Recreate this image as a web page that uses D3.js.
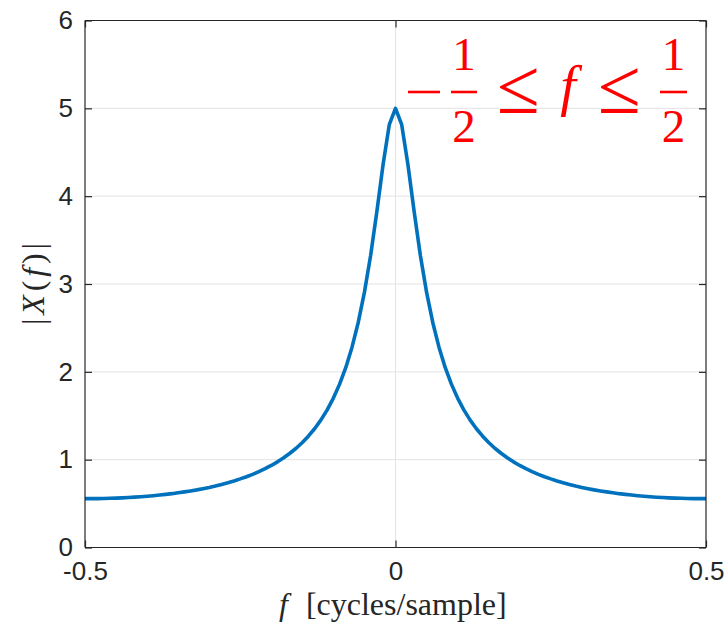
<!DOCTYPE html>
<html><head><meta charset="utf-8">
<script src="https://cdn.jsdelivr.net/npm/d3@7"></script>
<style>body{margin:0;background:#fff}svg{display:block}</style>
</head><body>
<svg id="chart" width="728" height="625"></svg>
<script>
const freq = [-0.50,-0.49,-0.48,-0.47,-0.46,-0.45,-0.44,-0.43,-0.42,-0.41,-0.40,-0.39,-0.38,-0.37,-0.36,-0.35,-0.34,-0.33,-0.32,-0.31,-0.30,-0.29,-0.28,-0.27,-0.26,-0.25,-0.24,-0.23,-0.22,-0.21,-0.20,-0.19,-0.18,-0.17,-0.16,-0.15,-0.14,-0.13,-0.12,-0.11,-0.10,-0.09,-0.08,-0.07,-0.06,-0.05,-0.04,-0.03,-0.02,-0.01,0.00,0.01,0.02,0.03,0.04,0.05,0.06,0.07,0.08,0.09,0.10,0.11,0.12,0.13,0.14,0.15,0.16,0.17,0.18,0.19,0.20,0.21,0.22,0.23,0.24,0.25,0.26,0.27,0.28,0.29,0.30,0.31,0.32,0.33,0.34,0.35,0.36,0.37,0.38,0.39,0.40,0.41,0.42,0.43,0.44,0.45,0.46,0.47,0.48,0.49,0.50];
const magnitude = [0.556,0.556,0.557,0.558,0.560,0.562,0.565,0.569,0.573,0.578,0.584,0.590,0.597,0.605,0.613,0.623,0.633,0.644,0.656,0.670,0.684,0.700,0.718,0.737,0.758,0.781,0.806,0.833,0.864,0.897,0.934,0.975,1.021,1.073,1.130,1.196,1.270,1.355,1.453,1.567,1.701,1.860,2.050,2.281,2.562,2.907,3.328,3.825,4.360,4.814,
5.000,
4.814,4.360,3.825,3.328,2.907,2.562,2.281,2.050,1.860,1.701,1.567,1.453,1.355,1.270,1.196,1.130,1.073,1.021,0.975,0.934,0.897,0.864,0.833,0.806,0.781,0.758,0.737,0.718,0.700,0.684,0.670,0.656,0.644,0.633,0.623,0.613,0.605,0.597,0.590,0.584,0.578,0.573,0.569,0.565,0.562,0.560,0.558,0.557,0.556,0.556];
const xTicks = [-0.5, 0, 0.5];
const xTickLabels = ["-0.5", "0", "0.5"];
const yTicks = [0, 1, 2, 3, 4, 5, 6];
const yTickLabels = ["0", "1", "2", "3", "4", "5", "6"];

const svg = d3.select("#chart");
const L = 85, R = 706, T = 20.5, B = 547.5;
const x = d3.scaleLinear().domain([-0.5, 0.5]).range([L, R]);
const y = d3.scaleLinear().domain([0, 6]).range([B, T]);
const axisColor = "#262626";
const tickFont = "'Liberation Sans', Arial, sans-serif";
const serif = "'Liberation Serif', 'Times New Roman', serif";

// grid
const g = svg.append("g");
g.selectAll("line.gy").data(yTicks.slice(1, -1)).join("line")
  .attr("x1", L).attr("x2", R).attr("y1", d => y(d)).attr("y2", d => y(d))
  .attr("stroke", "#e3e3e3").attr("stroke-width", 1);
g.selectAll("line.gx").data(xTicks.slice(1, -1)).join("line")
  .attr("y1", T).attr("y2", B).attr("x1", d => x(d)).attr("x2", d => x(d))
  .attr("stroke", "#e3e3e3").attr("stroke-width", 1);

// curve
const line = d3.line().x((d, i) => x(freq[i])).y(d => y(d));
svg.append("path").datum(magnitude).attr("d", line)
  .attr("fill", "none").attr("stroke", "#0072BD").attr("stroke-width", 3.6)
  .attr("stroke-linejoin", "round");

// axes (box with inward ticks)
const tl = 7;
const axB = d3.axisBottom(x).tickValues(xTicks).tickSize(-tl).tickFormat((d, i) => xTickLabels[i]).tickPadding(14);
const axT = d3.axisTop(x).tickValues(xTicks).tickSize(-tl).tickFormat("");
const axL = d3.axisLeft(y).tickValues(yTicks).tickSize(-tl).tickFormat((d, i) => yTickLabels[i]).tickPadding(12);
const axR = d3.axisRight(y).tickValues(yTicks).tickSize(-tl).tickFormat("");
function style(sel) {
  sel.select(".domain").attr("stroke", axisColor).attr("stroke-width", 1.2);
  sel.selectAll(".tick line").attr("stroke", axisColor).attr("stroke-width", 1.2);
  sel.selectAll(".tick text").attr("fill", axisColor).style("font-family", tickFont).style("font-size", "26px");
}
svg.append("g").attr("transform", `translate(0,${B})`).call(axB).call(style).call(s => s.select(".domain").attr("d", `M${L},0H${R}`));
svg.append("g").attr("transform", `translate(0,${T})`).call(axT).call(style).call(s => s.select(".domain").attr("d", `M${L},0H${R}`));
svg.append("g").attr("transform", `translate(${L},0)`).call(axL).call(style).call(s => s.select(".domain").attr("d", `M0,${B}V${T}`));
svg.append("g").attr("transform", `translate(${R},0)`).call(axR).call(style).call(s => s.select(".domain").attr("d", `M0,${B}V${T}`));

// axis labels
const xl = svg.append("text").attr("x", 279).attr("y", 615)
  .style("font-family", serif).style("font-size", "32px").attr("fill", axisColor);
xl.append("tspan").style("font-style", "italic").text("f");
xl.append("tspan").attr("dx", 18).text("[cycles/sample]");

const yl = svg.append("text").attr("transform", "translate(44,284) rotate(-90)")
  .attr("text-anchor", "middle")
  .style("font-family", serif).style("font-size", "32px").attr("fill", axisColor)
  .attr("textLength", 82).attr("lengthAdjust", "spacing");
yl.append("tspan").text("|");
yl.append("tspan").style("font-style", "italic").text("X");
yl.append("tspan").text("(");
yl.append("tspan").style("font-style", "italic").text("f");
yl.append("tspan").text(")|");

// annotation: -1/2 <= f <= 1/2
const red = "#ff0000";
const a = svg.append("g").attr("fill", red).style("font-family", serif);
function txt(cx, by, s, size, italic) {
  a.append("text").attr("x", cx).attr("y", by).attr("text-anchor", "middle")
    .style("font-size", size + "px").style("font-style", italic ? "italic" : "normal").text(s);
}
function bar(x1, x2, yy) {
  svg.append("line").attr("x1", x1).attr("x2", x2).attr("y1", yy).attr("y2", yy)
    .attr("stroke", red).attr("stroke-width", 2.6);
}
bar(408, 440, 92);
txt(464, 70, "1", 47); bar(451, 477, 92); txt(464, 142, "2", 47);
txt(518.5, 113, "≤", 78);
txt(568, 105, "f", 56, true);
txt(619.5, 113, "≤", 78);
txt(673.5, 70, "1", 47); bar(660, 687, 92); txt(673.5, 142, "2", 47);
</script>
</body></html>
